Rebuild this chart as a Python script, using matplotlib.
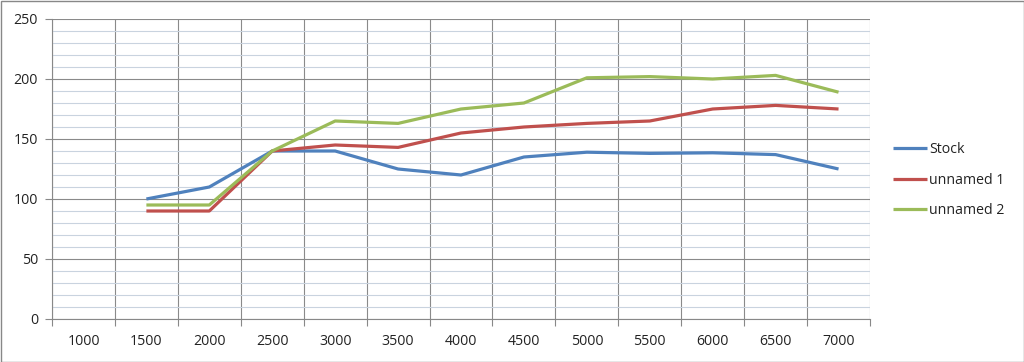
import numpy as np
import matplotlib
matplotlib.use("Agg")
from matplotlib import pyplot as plt
from matplotlib import patches

DPI = 100

rpm = ["1000", "1500", "2000", "2500", "3000", "3500", "4000",
       "4500", "5000", "5500", "6000", "6500", "7000"]

# None = no value for that category
stock = [None, 100, 110, 140, 140, 125, 120, 135, 139, 138, 138.5, 137, 125]
unnamed_1 = [None, 90, 90, 140, 145, 143, 155, 160, 163, 165, 175, 178, 175]
unnamed_2 = [None, 95, 95, 140, 165, 163, 175, 180, 201, 202, 200, 203, 189]

series = [
    ("Stock", stock, "#4F81BD"),
    ("unnamed 1", unnamed_1, "#C0504D"),
    ("unnamed 2", unnamed_2, "#9BBB59"),
]

plt.rcParams["font.family"] = ["Open Sans", "DejaVu Sans"]

fig = plt.figure(figsize=(1024 / DPI, 362 / DPI), dpi=DPI, facecolor="white")
ax = fig.add_axes([52 / 1024, 1 - 319 / 362, (870 - 52) / 1024, (319 - 19) / 362])

x = np.arange(len(rpm))
for name, vals, color in series:
    y = np.array([np.nan if v is None else v for v in vals], dtype=float)
    ax.plot(x, y, color=color, lw=2.3, label=name, solid_capstyle="butt", zorder=3)

ax.set_xlim(-0.5, len(rpm) - 0.5)
ax.set_ylim(0, 250)

ax.set_xticks(x)
ax.set_xticklabels(rpm)
ax.set_xticks(np.arange(-0.5, len(rpm), 1), minor=True)
ax.tick_params(axis="x", which="major", length=0, pad=11, labelsize=10.2, colors="#222222")
ax.tick_params(axis="x", which="minor", length=5, color="#888888", width=0.8)

ax.set_yticks(np.arange(0, 251, 50))
ax.set_yticks(np.arange(0, 251, 10), minor=True)
ax.tick_params(axis="y", which="major", length=5, width=0.8,
               labelsize=10.2, labelcolor="#222222", color="#888888", pad=5)
ax.tick_params(axis="y", which="minor", length=0)

ax.grid(which="minor", axis="x", color="#8a8a8a", lw=0.8)
ax.grid(which="minor", axis="y", color="#c9d3df", lw=0.8)
ax.grid(which="major", axis="y", color="#8a8a8a", lw=0.8)
ax.set_axisbelow(True)

for side in ("top", "right"):
    ax.spines[side].set_visible(False)
for side in ("left", "bottom"):
    ax.spines[side].set_color("#888888")
    ax.spines[side].set_linewidth(0.8)

leg = fig.legend(loc="center left", bbox_to_anchor=(880 / 1024, 1 - 180 / 362),
                 frameon=False, fontsize=10.2, handlelength=2.45,
                 handletextpad=0.1, labelspacing=1.1)
for t in leg.get_texts():
    t.set_color("#222222")

fig.patches.append(patches.Rectangle((0.5 / 1024, 0.5 / 362), 1 - 1 / 1024, 1 - 1 / 362,
                                     transform=fig.transFigure, fill=False,
                                     edgecolor="#888888", lw=1))

fig.savefig("out.png", dpi=DPI)
